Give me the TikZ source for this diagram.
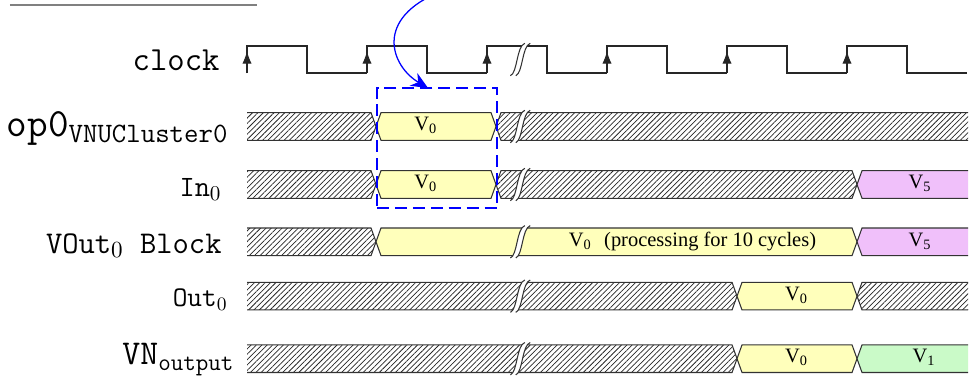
\documentclass[tikz,border=0pt]{standalone}
\usepackage{fontspec}
\newfontfamily\valfont{Liberation Serif}
\usetikzlibrary{arrows.meta,patterns.meta}

\definecolor{valyellow}{RGB}{255,255,187}
\definecolor{valpink}{RGB}{240,192,250}
\definecolor{valgreen}{RGB}{202,250,200}

\newcommand{\slope}{0.083}
\newcommand{\halfbar}{0.23}

\tikzset{
  sig/.style={draw=black!80, line width=0.5pt},
  datahatch/.style={sig, pattern={Lines[angle=45,distance=1.8pt,line width=0.35pt]}, pattern color=black!85},
  datayellow/.style={sig, fill=valyellow},
  datapink/.style={sig, fill=valpink},
  datagreen/.style={sig, fill=valgreen},
  clk/.style={draw=black!85, line width=0.5pt},
  clkarrow/.style={-{Latex[length=6pt,width=4.4pt]}},
  lbl/.style={anchor=base east, inner sep=0pt},
  val/.style={anchor=base, inner sep=0pt, font=\valfont\fontsize{9.7}{11}\selectfont},
  winbox/.style={draw=blue, line width=1.2pt, dash pattern=on 5.7pt off 2.8pt,
    minimum width=2cm, minimum height=2cm, inner sep=0pt, outer sep=0pt},
  pointer/.style={blue, line width=0.6pt, -{Stealth[length=8pt,width=7pt]}},
  brk/.pic={
    \fill[white] (-0.16,-0.27) .. controls (-0.04,-0.22) and (-0.06,0.22) .. (0.08,0.27)
      -- (0.17,0.27) .. controls (0.03,0.22) and (0.05,-0.22) .. (-0.07,-0.27) -- cycle;
    \draw[black!80, line width=0.5pt] (-0.16,-0.27) .. controls (-0.04,-0.22) and (-0.06,0.22) .. (0.08,0.27);
    \draw[black!80, line width=0.5pt] (-0.07,-0.27) .. controls (0.05,-0.22) and (0.03,0.22) .. (0.17,0.27);
  }
}

\begin{document}
\begin{tikzpicture}
\useasboundingbox (-4.1167,0) rectangle (12.0833,-6.2667);

% Filetto in alto
\draw[gray, line width=0.7pt] (-3.95,-0.083) -- (0.167,-0.083);

% Segnali dati
\begin{scope}
\clip (0,0) rectangle (12.017,-6.3);
\foreach \y/\a/\b/\st in {
  -2.108/-0.2/2.15/datahatch, -2.108/2.15/4.15/datayellow, -2.108/4.15/12.2/datahatch,
  -3.075/-0.2/2.15/datahatch, -3.075/2.15/4.15/datayellow, -3.075/4.15/10.167/datahatch, -3.075/10.167/12.2/datapink,
  -4.03/-0.2/2.15/datahatch, -4.03/2.15/10.167/datayellow, -4.03/10.167/12.2/datapink,
  -4.936/-0.2/8.167/datahatch, -4.936/8.167/10.167/datayellow, -4.936/10.167/12.2/datahatch,
  -5.978/-0.2/8.167/datahatch, -5.978/8.167/10.167/datayellow, -5.978/10.167/12.2/datagreen} {
  \draw[\st] (\a,\y) -- (\a+\slope,\y+\halfbar) -- (\b-\slope,\y+\halfbar) -- (\b,\y)
    -- (\b-\slope,\y-\halfbar) -- (\a+\slope,\y-\halfbar) -- cycle;
}
\end{scope}

% Clock con fronti di salita
\foreach \k in {0,2,...,10} {
  \draw[clk] (\k,-1.217) -- (\k,-0.767) -- (\k+1,-0.767) -- (\k+1,-1.217) -- (\k+2,-1.217);
  \draw[clk, clkarrow] (\k,-1.217) -- (\k,-0.85);
}

% Interruzioni
\foreach \y in {-0.992,-2.108,-3.075,-4.03,-4.936,-5.978}
  \pic at (4.55,\y) {brk};

% Etichette
\node[lbl, font=\ttfamily\fontsize{16}{18}\selectfont] (lclk) at (-0.45,-1.167) {clock};
\node[lbl, font=\ttfamily\fontsize{19}{21}\selectfont] (lop) at (-0.3,-2.283) {op0$_{\mathtt{VNUCluster0}}$};
\node[lbl, font=\ttfamily\fontsize{14}{16}\selectfont] (lin) at (-0.417,-3.267) {In$_0$};
\node[lbl, font=\ttfamily\fontsize{15}{17}\selectfont] (lvout) at (-0.417,-4.217) {VOut$_0$ Block};
\node[lbl, font=\ttfamily\fontsize{13.5}{15}\selectfont] (lout) at (-0.317,-5.1) {Out$_0$};
\node[lbl, font=\ttfamily\fontsize{16.5}{18}\selectfont] (lvn) at (-0.2,-6.083) {VN$_{\mathtt{output}}$};

% Valori
\node[val] (v0a) at (2.98,-2.173) {V\textsubscript{0}};
\node[val] (v0b) at (2.98,-3.14) {V\textsubscript{0}};
\node[val] (v0c) at (7.425,-4.105) {V\textsubscript{0}\hspace{0.6em}(processing for 10 cycles)};
\node[val] (v5b) at (11.217,-3.14) {V\textsubscript{5}};
\node[val] (v5c) at (11.217,-4.105) {V\textsubscript{5}};
\node[val] (v0d) at (9.158,-5.0) {V\textsubscript{0}};
\node[val] (v0e) at (9.158,-6.043) {V\textsubscript{0}};
\node[val] (v1e) at (11.283,-6.043) {V\textsubscript{1}};

% Finestra evidenziata e freccia
\node[winbox] (win) at (3.167,-2.467) {};
\coordinate (src) at (3.25,0.15);
\coordinate (tip) at ([xshift=-0.15cm]win.north);
\draw[pointer] (src) .. controls (2.1,-0.3) and (2.4,-1.1) .. (tip);

\end{tikzpicture}
\end{document}
